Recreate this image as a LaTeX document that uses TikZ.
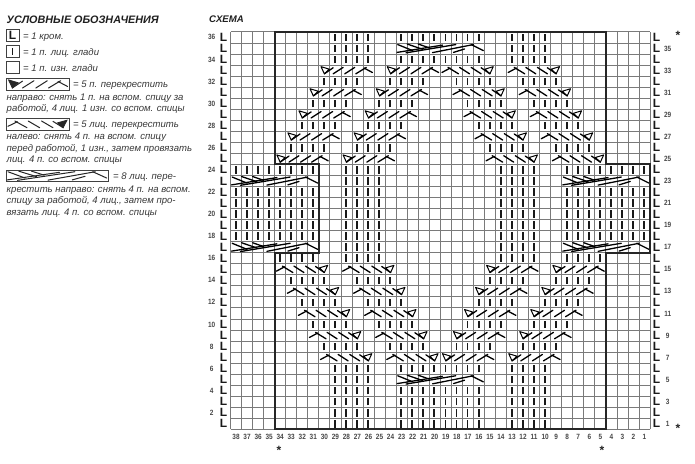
\documentclass[tikz,border=0pt]{standalone}
\usepackage{fontspec}
\setmainfont{Liberation Sans}
\newcommand{\fs}[1]{\fontsize{#1}{#1}\selectfont}
\tikzset{
  cellline/.style={draw=black!52,line width=0.8pt},
  heavy/.style={draw=black!85,line width=1.7pt,line join=miter},
  bar/.style={draw=black!90,line width=1.9pt},
  stroke/.style={draw=black,line width=1.3pt,line cap=round},
  tri/.style={draw=black,line width=1pt,line join=round},
  legtri/.style={tri/.style={draw=black!85,fill=black!85,line width=0.8pt},stroke/.style={draw=black!85,line width=1pt,line cap=round}},
  legbox/.style={draw=black!75,line width=0.9pt},
  numlab/.style={inner sep=0pt,text=black!72,font=\fs{7.6}\bfseries,xscale=0.85},
  ellab/.style={inner sep=0pt,text=black!90,font=\fs{12}\bfseries},
  leg/.style={inner sep=0pt,anchor=base west,text=black!78,font=\fs{9.55}\itshape},
  head/.style={inner sep=0pt,anchor=base west,text=black!88,font=\bfseries\itshape},
  starl/.style={inner sep=0pt,text=black!85,font=\fs{12}\bfseries}
}
\newcommand{\crossbody}{%
  \draw[tri] (.2,.85) -- (.95,.62) -- (.5,.2) -- cycle;
  \draw[stroke] (.5,.2) -- (1.3,.75);
  \draw[stroke] (1.3,.2) -- (2.2,.78);
  \draw[stroke] (2.35,.2) -- (3.25,.78);
  \draw[stroke] (3.35,.2) -- (4.3,.78);
  \draw[stroke] (4.1,.72) -- (4.85,.32);
}
\newcommand{\crossA}[2]{\begin{scope}[shift={(#1,#2-1)}]\crossbody\end{scope}}
\newcommand{\crossB}[2]{\begin{scope}[shift={(#1+5,#2-1)},xscale=-1]\crossbody\end{scope}}
\newcommand{\cablebody}{%
  \draw[stroke] (.15,.85) -- (1.5,.3);
  \draw[stroke] (1,.9) -- (2.4,.42);
  \draw[stroke] (2,.9) -- (3,.55);
  \draw[stroke] (.1,.14) -- (4.2,.8);
  \draw[stroke] (.9,.1) -- (5.4,.85);
  \draw[stroke] (3.3,.12) -- (7,.85);
  \draw[stroke] (5.2,.14) -- (6.2,.45);
  \draw[stroke] (6.8,.85) -- (7.9,.3);
}
\newcommand{\cable}[2]{\begin{scope}[shift={(#1,#2-1)}]\cablebody\end{scope}}
\newcommand{\barsat}[2]{%
  \foreach \k in {0,1,2,3}{%
    \draw[bar] (#1+\k+.47,#2-.84) -- (#1+\k+.47,#2-.16);}}
\begin{document}
\begin{tikzpicture}[x=1pt,y=-1pt]
\useasboundingbox (0,0) rectangle (695,463);
\fill[white] (0,0) rectangle (695,463);
% legend
\node[head,font=\fs{10.8}\bfseries\itshape] (title) at (6.5,23) {УСЛОВНЫЕ ОБОЗНАЧЕНИЯ};
\draw[legbox] (6,29.5) rectangle (19,41.5);
\node[ellab] (legL) at (12.5,35.5) {L};
\node[leg] (t1) at (23,39.5) {= 1 кром.};
\draw[legbox] (6,45.5) rectangle (19,57.5);
\draw[bar] (12.5,48) -- (12.5,55);
\node[leg] (t2) at (23,55.5) {= 1 п. лиц. глади};
\draw[legbox] (6,61.5) rectangle (19,73.5);
\node[leg] (t3) at (23,71.5) {= 1 п. изн. глади};
\draw[legbox] (6,78) rectangle (69.5,90.5);
\begin{scope}[shift={(6,90.5)},x=12.7pt,y=12.5pt,legtri]\crossbody\end{scope}
\node[leg] (t4) at (73,87.5) {= 5 п. перекрестить};
\node[leg] (t5) at (6.5,100.2) {направо: снять 1 п. на вспом. спицу за};
\node[leg] (t6) at (6.5,111.8) {работой, 4 лиц. 1 изн. со вспом. спицы};
\draw[legbox] (6,118.5) rectangle (69.5,130);
\begin{scope}[shift={(69.5,130)},x=-12.7pt,y=11.5pt,legtri]\crossbody\end{scope}
\node[leg] (t7) at (73,127.5) {= 5 лиц. перекрестить};
\node[leg] (t8) at (6.5,139.5) {налево: снять 4 п. на вспом. спицу};
\node[leg] (t9) at (6.5,151.2) {перед работой, 1 изн., затем провязать};
\node[leg] (t10) at (6.5,162.8) {лиц. 4 п. со вспом. спицы};
\draw[legbox] (6,170) rectangle (108,181.5);
\begin{scope}[shift={(6,181.5)},x=12.75pt,y=11.5pt,legtri]\cablebody\end{scope}
\node[leg] (t11) at (113,179.2) {= 8 лиц. пере-};
\node[leg] (t12) at (6.5,192.2) {крестить направо: снять 4 п. на вспом.};
\node[leg] (t13) at (6.5,203.8) {спицу за работой, 4 лиц., затем про-};
\node[leg] (t14) at (6.5,215.2) {вязать лиц. 4 п. со вспом. спицы};
\node[head,font=\fs{9.6}\bfseries\itshape] (schema) at (209,22.5) {СХЕМА};
% chart
\begin{scope}[shift={(230.5,429.3)},x=11.04pt,y=11.04pt]
  \foreach \i in {0,...,38}{\draw[cellline] (\i,0) -- (\i,36);}
  \foreach \r in {0,...,36}{\draw[cellline] (0,\r) -- (38,\r);}
  % stockinette wales, mirrored about the chart's centre
  \foreach \a/\r in {9/1,9/2,9/3,9/4,9/5,9/6,8/8,7/10,6/12,5/14,4/16,5/26,6/28,7/30,8/32,9/34,9/35,9/36,
    15/1,15/2,15/3,15/4,15/6,14/8,13/10,12/12,11/14,10/16,10/17,10/18,10/19,10/20,10/21,10/22,10/23,10/24,
    11/26,12/28,13/30,14/32,15/34,15/36,
    0/18,0/19,0/20,0/21,0/22,0/24,4/18,4/19,4/20,4/21,4/22,4/24}{
    \pgfmathtruncatemacro{\m}{34-\a}
    \barsat{\a}{\r}\barsat{\m}{\r}
  }
  % 5-stitch crossings
  \foreach \a/\r in {8/7,7/9,6/11,5/13,4/15,14/7,13/9,12/11,11/13,10/15}{
    \pgfmathtruncatemacro{\m}{33-\a}
    \crossB{\a}{\r}\crossA{\m}{\r}
  }
  \foreach \a/\r in {4/25,5/27,6/29,7/31,8/33,10/25,11/27,12/29,13/31,14/33}{
    \pgfmathtruncatemacro{\m}{33-\a}
    \crossA{\a}{\r}\crossB{\m}{\r}
  }
  % 8-stitch cables
  \foreach \a/\r in {0/17,0/23,30/17,30/23,15/5,15/35}{\cable{\a}{\r}}
  % heavy outline
  \draw[heavy] (4,36) -- (34,36) -- (34,24) -- (38,24) -- (38,16) -- (34,16) -- (34,0)
    -- (4,0) -- (4,16) -- (8,16) -- (8,24) -- (4,24) -- cycle;
  % edge stitches
  \foreach \r in {1,...,36}{
    \node[ellab] (ell\r) at (-.62,\r-.5) {L};
    \node[ellab] (elr\r) at (38.6,\r-.5) {L};
  }
  % row numbers
  \foreach \r in {2,4,...,36}{\node[numlab] (rn\r) at (-1.7,\r-.5) {\r};}
  \foreach \r in {1,3,...,35}{\node[numlab] (rn\r) at (39.6,\r-.5) {\r};}
  % column numbers
  \foreach \c in {1,...,38}{\node[numlab] (cn\c) at (38.5-\c,-.66) {\c};}
\end{scope}
\node[starl] (s1) at (279,450.5) {*};
\node[starl] (s2) at (602,450.5) {*};
\node[starl] (s3) at (678,35.5) {*};
\node[starl] (s4) at (678,428.5) {*};
\end{tikzpicture}
\end{document}
